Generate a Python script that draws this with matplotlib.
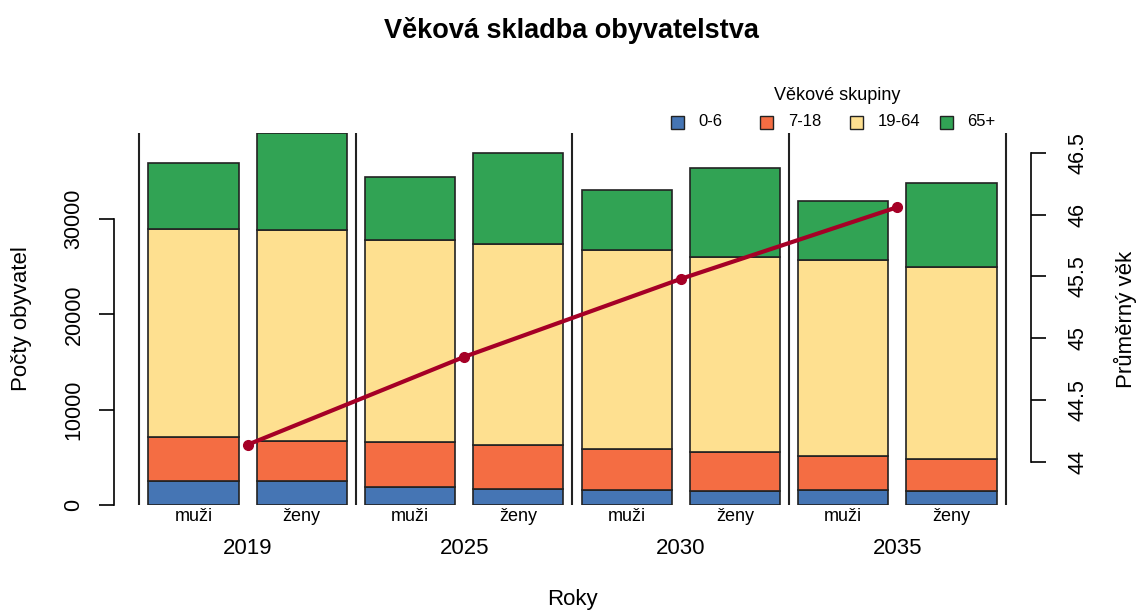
import matplotlib.pyplot as plt
from matplotlib.patches import Rectangle
from matplotlib.transforms import blended_transform_factory
import numpy as np

plt.rcParams['font.family'] = ['Liberation Sans', 'DejaVu Sans']

# data
years = ['2019', '2025', '2030', '2035']
sexes = ['muži', 'ženy']
groups = ['0-6', '7-18', '19-64', '65+']
# one value per bar: 2019 muži, 2019 ženy, 2025 muži, ...
age_0_6 = [2530, 2530, 1900, 1700, 1610, 1470, 1610, 1470]
age_7_18 = [4560, 4140, 4730, 4620, 4250, 4110, 3550, 3370]
age_19_64 = [21860, 22170, 21160, 21050, 20880, 20390, 20520, 20140]
age_65 = [6950, 10180, 6630, 9580, 6310, 9400, 6220, 8840]
mean_age = [44.14, 44.85, 45.48, 46.06]

colors = ['#4575b4', '#f46d43', '#fee090', '#31a354']
line_color = '#a50026'

fig = plt.figure(figsize=(11.37, 6.11), dpi=100)
ax = fig.add_axes([0.1006, 0.1735, 0.8058, 0.6088])

# R style barplot positions: width 1, space 0.2
n = len(age_0_6)
x = 0.7 + 1.2 * np.arange(n)
stack = [age_0_6, age_7_18, age_19_64, age_65]
bottom = np.zeros(n)
for vals, c in zip(stack, colors):
    ax.bar(x, vals, width=1.0, bottom=bottom, color=c, edgecolor='#222222', linewidth=1.2)
    bottom += np.array(vals)

total_max = bottom.max()
ax.set_xlim(-0.176, 9.976)
ax.set_ylim(0, total_max)

# separators between years
for k in range(len(years) + 1):
    ax.axvline(0.1 + 2.4 * k, color='#222222', lw=1.5)

for s in ['top', 'right', 'bottom']:
    ax.spines[s].set_visible(False)
ax.spines['left'].set_bounds(0, 30000)
ax.spines['left'].set_linewidth(1.2)
ax.set_yticks([0, 10000, 20000, 30000])
ax.set_yticklabels(['0', '10000', '20000', '30000'], rotation=90, va='center')
ax.tick_params(axis='y', length=11, width=1.2, labelsize=15.5, pad=10.5)
ax.set_xticks([])
ax.set_ylabel('Počty obyvatel', fontsize=16, va='center')
ax.yaxis.set_label_coords(-0.1009, 0.5)

trans = blended_transform_factory(ax.transData, ax.transAxes)
for i in range(n):
    ax.annotate(sexes[i % 2], (x[i], 0), xycoords=trans, xytext=(0, -8),
                textcoords='offset points', ha='center', va='center', fontsize=13)
centers = [(x[2 * j] + x[2 * j + 1]) / 2 for j in range(len(years))]
for j, yr in enumerate(years):
    ax.annotate(yr, (centers[j], 0), xycoords=trans, xytext=(0, -31),
                textcoords='offset points', ha='center', va='center', fontsize=16)
ax.annotate('Roky', (0.5, 0), xycoords='axes fraction', xytext=(0, -68),
            textcoords='offset points', ha='center', va='center', fontsize=16)

# mean age on the right axis
ax2 = ax.twinx()
ax2.plot(centers, mean_age, color=line_color, lw=3, marker='o', ms=7)
ax2.set_ylim(43.653, 46.659)
for s in ['top', 'left', 'bottom']:
    ax2.spines[s].set_visible(False)
ax2.spines['right'].set_bounds(44, 46.5)
ax2.spines['right'].set_linewidth(1.2)
ax2.set_yticks([44, 44.5, 45, 45.5, 46, 46.5])
ax2.set_yticklabels(['44', '44.5', '45', '45.5', '46', '46.5'], rotation=90, va='center')
ax2.tick_params(axis='y', length=11, width=1.2, labelsize=15.5, pad=15.5)
ax2.set_ylabel('Průměrný věk', fontsize=16, rotation=90, va='center')
ax2.yaxis.set_label_coords(1.1035, 0.5)

fig.text(571 / 1137, 1 - 30 / 611, 'Věková skladba obyvatelstva', ha='center', va='center',
         fontsize=19.5, fontweight='bold')

# legend in R style, one row
W, H = 1137, 611
fig.text(837 / W, 1 - 95 / H, 'Věkové skupiny', ha='center', va='center', fontsize=13)
for i, (g, c) in enumerate(zip(groups, colors)):
    cx = 677 + 89.7 * i
    fig.patches.append(Rectangle(((cx - 6.5) / W, 1 - 129 / H), 13 / W, 13 / H,
                                 transform=fig.transFigure, facecolor=c,
                                 edgecolor='#222222', lw=1))
    fig.text((cx + 21) / W, 1 - 122 / H, g, ha='left', va='center', fontsize=12)

fig.savefig('out.png', dpi=100)
